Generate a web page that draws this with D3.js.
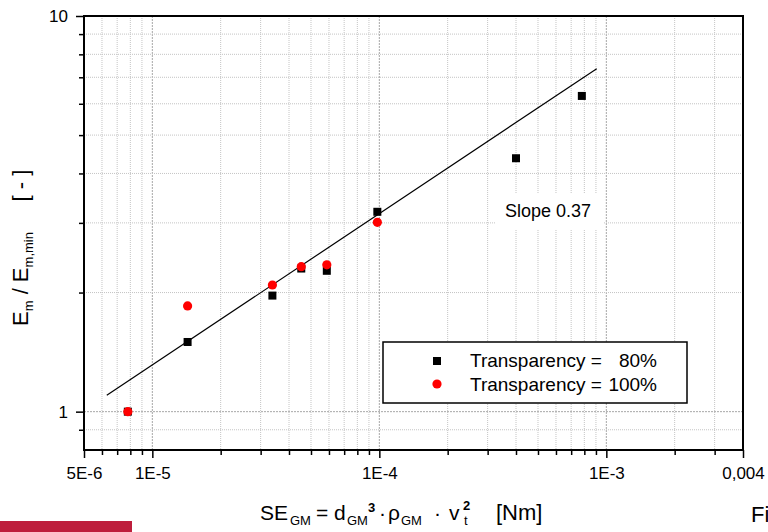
<!DOCTYPE html>
<html>
<head>
<meta charset="utf-8">
<script src="https://cdn.jsdelivr.net/npm/d3@7"></script>
<style>
  body { margin: 0; background: #fff; }
  svg { display: block; font-family: "Liberation Sans", Arial, sans-serif; }
  text { white-space: pre; }
</style>
</head>
<body>
<svg id="chart"></svg>
<script>
// data
var energy80 = [7.8e-6, 1.43e-5, 3.38e-5, 4.53e-5, 5.87e-5, 9.8e-5, 4.0e-4, 7.8e-4];
var ratio80 = [1.0, 1.50, 1.965, 2.30, 2.27, 3.20, 4.37, 6.28];
var energy100 = [7.8e-6, 1.43e-5, 3.38e-5, 4.53e-5, 5.87e-5, 9.8e-5];
var ratio100 = [1.0, 1.85, 2.09, 2.325, 2.35, 3.01];
var fitX = [6.3e-6, 9.07e-4];
var fitY = [1.10, 7.36];
var xTickVals = [5e-6, 1e-5, 1e-4, 1e-3, 4e-3];
var xTickLabels = ["5E-6", "1E-5", "1E-4", "1E-3", "0,004"];
var yTickVals = [1, 10];
var yTickLabels = ["1", "10"];
var legendLabels = ["80%", "100%"];

var w = 768, h = 532;
var pl = 84, pr = 743, pt = 16, pb = 450;

var svg = d3.select("#chart").attr("width", w).attr("height", h);

var x = d3.scaleLog().domain([5e-6, 4e-3]).range([pl, pr]);
var y = d3.scaleLog().domain([0.8, 10]).range([pb, pt]);

var majorX = [1e-5, 1e-4, 1e-3];
var majorY = [1];

// grid
var gx = x.ticks().filter(function(d) { return x(d) > pl + 1 && x(d) < pr - 1; });
var gy = y.ticks().filter(function(d) { return y(d) > pt + 1 && y(d) < pb - 1; });

svg.append("g").selectAll("line")
  .data(gx).enter().append("line")
  .attr("x1", function(d) { return x(d); })
  .attr("x2", function(d) { return x(d); })
  .attr("y1", pt).attr("y2", pb)
  .attr("stroke", function(d) { return majorX.indexOf(d) >= 0 ? "#a8a8a8" : "#c4c4c4"; })
  .attr("stroke-width", 1)
  .attr("stroke-dasharray", function(d) { return majorX.indexOf(d) >= 0 ? "2,1" : "1,1"; });

svg.append("g").selectAll("line")
  .data(gy).enter().append("line")
  .attr("y1", function(d) { return y(d); })
  .attr("y2", function(d) { return y(d); })
  .attr("x1", pl).attr("x2", pr)
  .attr("stroke", function(d) { return majorY.indexOf(d) >= 0 ? "#a8a8a8" : "#c4c4c4"; })
  .attr("stroke-width", 1)
  .attr("stroke-dasharray", function(d) { return majorY.indexOf(d) >= 0 ? "2,1" : "1,1"; });

// axes: minor ticks, then major ticks with labels
var xMinor = x.ticks().filter(function(d) { return xTickVals.indexOf(d) < 0; });
var yMinor = y.ticks().filter(function(d) { return yTickVals.indexOf(d) < 0 && d > 0.8; });

svg.append("g").attr("transform", "translate(0," + pb + ")")
  .call(d3.axisBottom(x).tickValues(xMinor).tickSize(5).tickSizeOuter(0).tickFormat(""))
  .call(function(g) { g.select(".domain").remove(); g.selectAll("line").attr("stroke-width", 1.5); });

svg.append("g").attr("transform", "translate(0," + pb + ")")
  .call(d3.axisBottom(x).tickValues(xTickVals).tickSize(8).tickSizeOuter(0)
    .tickFormat(function(d, i) { return xTickLabels[i]; }).tickPadding(9))
  .call(function(g) {
    g.select(".domain").remove();
    g.selectAll("line").attr("stroke-width", 1.5);
    g.selectAll("text").attr("font-size", 17).attr("fill", "#000")
      .attr("font-family", "Liberation Sans, Arial, sans-serif");
  });

svg.append("g").attr("transform", "translate(" + pl + ",0)")
  .call(d3.axisLeft(y).tickValues(yMinor).tickSize(5).tickSizeOuter(0).tickFormat(""))
  .call(function(g) { g.select(".domain").remove(); g.selectAll("line").attr("stroke-width", 1.5); });

svg.append("g").attr("transform", "translate(" + pl + ",0)")
  .call(d3.axisLeft(y).tickValues(yTickVals).tickSize(8).tickSizeOuter(0)
    .tickFormat(function(d, i) { return yTickLabels[i]; }).tickPadding(8))
  .call(function(g) {
    g.select(".domain").remove();
    g.selectAll("line").attr("stroke-width", 1.5);
    g.selectAll("text").attr("font-size", 17).attr("fill", "#000")
      .attr("font-family", "Liberation Sans, Arial, sans-serif");
  });

// frame
svg.append("rect")
  .attr("x", pl).attr("y", pt)
  .attr("width", pr - pl).attr("height", pb - pt)
  .attr("fill", "none").attr("stroke", "#000").attr("stroke-width", 2);

// fit line
svg.append("line")
  .attr("x1", x(fitX[0])).attr("y1", y(fitY[0]))
  .attr("x2", x(fitX[1])).attr("y2", y(fitY[1]))
  .attr("stroke", "#000").attr("stroke-width", 1.2);

// slope label with white background
svg.append("rect").attr("x", 495).attr("y", 193).attr("width", 109).attr("height", 37).attr("fill", "#fff");
svg.append("text").attr("x", 505).attr("y", 217).attr("font-size", 18).text("Slope 0.37");

// points
svg.append("g").selectAll("rect")
  .data(energy80).enter().append("rect")
  .attr("x", function(d) { return x(d) - 4; })
  .attr("y", function(d, i) { return y(ratio80[i]) - 4; })
  .attr("width", 8).attr("height", 8)
  .attr("fill", "#000");

svg.append("g").selectAll("circle")
  .data(energy100).enter().append("circle")
  .attr("cx", function(d) { return x(d); })
  .attr("cy", function(d, i) { return y(ratio100[i]); })
  .attr("r", 4.6)
  .attr("fill", "#ff0000");

// legend
var lg = svg.append("g");
lg.append("rect").attr("x", 383).attr("y", 342).attr("width", 304).attr("height", 61)
  .attr("fill", "#fff").attr("stroke", "#000").attr("stroke-width", 1.5);
lg.append("rect").attr("x", 433).attr("y", 357).attr("width", 8).attr("height", 8).attr("fill", "#000");
lg.append("circle").attr("cx", 437).attr("cy", 384).attr("r", 4.6).attr("fill", "#ff0000");
[367, 391].forEach(function(yy, i) {
  lg.append("text").attr("x", 470).attr("y", yy).attr("font-size", 19).text("Transparency =");
  lg.append("text").attr("x", 657).attr("y", yy).attr("font-size", 19)
    .attr("text-anchor", "end").text(legendLabels[i]);
});

// x title, pieces placed where the reference has them
var xt = svg.append("text").attr("y", 520).attr("font-size", 21);
xt.append("tspan").attr("x", 260).text("SE");
xt.append("tspan").attr("x", 290).attr("font-size", 13).attr("dy", 5).text("GM");
xt.append("tspan").attr("x", 316).attr("dy", -5).text("=");
xt.append("tspan").attr("x", 334).text("d");
xt.append("tspan").attr("x", 347).attr("font-size", 13).attr("dy", 5).text("GM");
xt.append("tspan").attr("x", 368).attr("font-size", 13).attr("font-weight", "bold").attr("dy", -13).text("3");
xt.append("tspan").attr("x", 379).attr("dy", 8).text("·");
xt.append("tspan").attr("x", 388).text("ρ");
xt.append("tspan").attr("x", 401).attr("font-size", 13).attr("dy", 5).text("GM");
xt.append("tspan").attr("x", 434).attr("dy", -5).text("·");
xt.append("tspan").attr("x", 449).text("v");
xt.append("tspan").attr("x", 464).attr("font-size", 13).attr("dy", 5).text("t");
xt.append("tspan").attr("x", 463).attr("font-size", 13).attr("font-weight", "bold").attr("dy", -15).text("2");
xt.append("tspan").attr("x", 496).attr("dy", 10).attr("font-size", 22).text("[Nm]");

// y title
var yt = svg.append("text").attr("transform", "translate(28,326) rotate(-90)").attr("font-size", 22);
yt.append("tspan").text("E");
yt.append("tspan").attr("font-size", 13).attr("dy", 5).text("m");
yt.append("tspan").attr("dy", -5).text(" / E");
yt.append("tspan").attr("font-size", 13).attr("dy", 5).text("m,min");
yt.append("tspan").attr("dy", -5).text("     [ - ]");

// cropped bits at the page edge
svg.append("text").attr("x", 751).attr("y", 522).attr("font-size", 22).text("Fi");
svg.append("rect").attr("x", 0).attr("y", 521).attr("width", 132).attr("height", 11).attr("fill", "#be1e3c");
</script>
</body>
</html>
